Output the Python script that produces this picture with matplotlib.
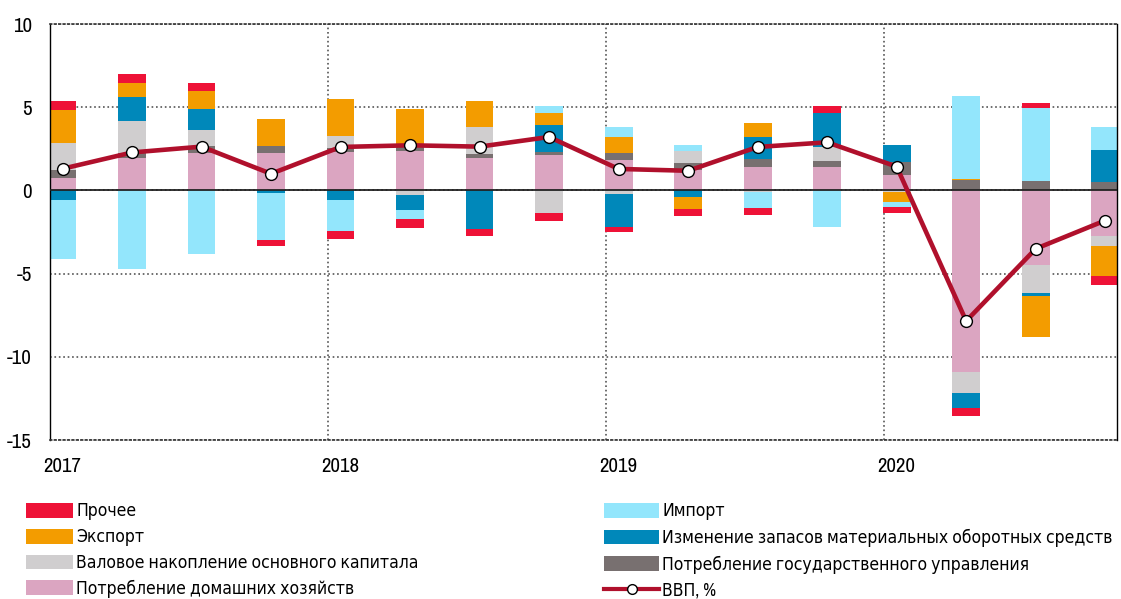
import matplotlib
matplotlib.use("Agg")
import matplotlib.pyplot as plt
import numpy as np
from matplotlib.patches import Patch
from matplotlib.lines import Line2D
from matplotlib import font_manager

# pick a condensed face if one is installed (prefer "narrow" faces)
cands = []
for f in font_manager.fontManager.ttflist:
    fn = f.fname.lower()
    if ('narrow' in fn or 'condensed' in fn) and not any(s in fn for s in ('bold', 'oblique', 'italic', 'light')):
        cands.append((0 if 'narrow' in fn else 1, f.name, f))
cands.sort(key=lambda t: (t[0], t[1]))
narrow = cands[0][2] if cands else None
if narrow is not None:
    plt.rcParams['font.family'] = [narrow.name, 'DejaVu Sans']
    plt.rcParams['font.stretch'] = narrow.stretch
else:
    plt.rcParams['font.family'] = ['Roboto', 'DejaVu Sans']
LEG_FS = 12.6
TICK_FS = 15

years = ['2017', '2018', '2019', '2020']
n_quarters = 16

households = [0.72, 1.93, 2.23, 2.23, 2.33, 2.37, 1.93, 2.11, 1.83, 1.22, 1.43, 1.43, 0.92, -10.92, -4.5, -2.73]
government = [0.5, 0.3, 0.46, 0.46, 0.2, 0.26, 0.26, 0.2, 0.4, 0.4, 0.44, 0.36, 0.8, 0.62, 0.58, 0.52]
capital = [1.6, 1.97, 0.94, 0.0, 0.74, -0.28, 1.65, -1.33, -0.24, 0.76, -0.1, 0.84, -0.08, -1.25, -1.66, -0.6]
inventories = [-0.58, 1.44, 1.25, -0.14, -0.58, -0.88, -2.29, 1.63, -1.95, -0.38, 1.33, 2.01, 1.0, -0.9, -0.16, 1.91]
exports = [2.0, 0.81, 1.12, 1.61, 2.23, 2.27, 1.52, 0.7, 1.0, -0.76, 0.84, 0.0, -0.6, 0.06, -2.49, -1.83]
imports = [-3.52, -4.7, -3.84, -2.86, -1.86, -0.56, 0.0, 0.44, 0.56, 0.32, -0.98, -2.19, -0.33, 5.0, 4.36, 1.41]
other = [0.54, 0.56, 0.43, -0.33, -0.48, -0.54, -0.46, -0.52, -0.34, -0.4, -0.4, 0.44, -0.33, -0.5, 0.34, -0.5]
gdp = [1.3, 2.28, 2.63, 1.0, 2.61, 2.71, 2.63, 3.21, 1.29, 1.18, 2.61, 2.89, 1.43, -7.85, -3.51, -1.81]

labels = {
    'households': 'Потребление домашних хозяйств',
    'government': 'Потребление государственного управления',
    'capital': 'Валовое накопление основного капитала',
    'inventories': 'Изменение запасов материальных оборотных средств',
    'exports': 'Экспорт',
    'imports': 'Импорт',
    'other': 'Прочее',
    'gdp': 'ВВП, %',
}
colors = {
    'households': '#DBA5C1',
    'government': '#787070',
    'capital': '#D0CECF',
    'inventories': '#0088BA',
    'exports': '#F39C00',
    'imports': '#93E6FC',
    'other': '#EE1237',
    'gdp': '#B0102C',
}

series = [('households', households), ('government', government), ('capital', capital),
          ('inventories', inventories), ('exports', exports), ('imports', imports), ('other', other)]

fig = plt.figure(figsize=(11.21, 5.99), dpi=100)
ax = fig.add_axes([50/1121, 1-440/599, 1067/1121, 416/599])

x = np.arange(n_quarters) + 0.18
pos_bottom = np.zeros(n_quarters)
neg_bottom = np.zeros(n_quarters)
for key, vals in series:
    v = np.array(vals)
    bottoms = np.where(v >= 0, pos_bottom, neg_bottom)
    ax.bar(x, v, width=0.4, bottom=bottoms, color=colors[key], edgecolor='none', zorder=2)
    pos_bottom = pos_bottom + np.where(v >= 0, v, 0)
    neg_bottom = neg_bottom + np.where(v < 0, v, 0)

ax.axhline(0, color='#222222', lw=1.3, zorder=3)
ax.plot(x, gdp, color=colors['gdp'], lw=3.3, marker='o', markersize=8.5,
        markerfacecolor='white', markeredgecolor='black', markeredgewidth=1.0, zorder=4)

ax.set_xlim(0, 15.35)
ax.set_ylim(-15, 10)
ax.set_yticks([-15, -10, -5, 0, 5, 10])
ax.set_yticklabels(['-15', '-10', '-5', '0', '5', '10'])
ax.set_xticks(np.arange(0, 16, 4) + 0.18)
ax.set_xticklabels(years)
ax.set_xticks(np.arange(0, 16, 4), minor=True)
ax.tick_params(axis='both', which='both', length=0, labelsize=TICK_FS)
ax.tick_params(axis='y', pad=13)
ax.tick_params(axis='x', pad=12)
ax.grid(True, which='minor', axis='x', linestyle=':', color='#555555', lw=1.2, zorder=1)
ax.grid(True, which='major', axis='y', linestyle=':', color='#555555', lw=1.2, zorder=1)
ax.grid(False, which='major', axis='x')
for s in ['top', 'bottom']:
    ax.spines[s].set_linestyle(':')
    ax.spines[s].set_color('#333333')
    ax.spines[s].set_linewidth(1.2)
for s in ['left', 'right']:
    ax.spines[s].set_color('black')
    ax.spines[s].set_linewidth(1.0)

h = lambda k: Patch(facecolor=colors[k], edgecolor='none', label=labels[k])
left_handles = [h('other'), h('exports'), h('capital'), h('households')]
right_handles = [h('imports'), h('inventories'), h('government'),
                 Line2D([0], [0], color=colors['gdp'], lw=3, marker='o', markersize=7,
                        markerfacecolor='white', markeredgecolor='black', markeredgewidth=1.0,
                        label=labels['gdp'])]

fs_px = LEG_FS * 100 / 72
common = dict(frameon=False, fontsize=LEG_FS, handleheight=16 / fs_px,
              handletextpad=3 / fs_px, labelspacing=(26 - fs_px) / fs_px,
              borderaxespad=0, borderpad=0)
leg1 = fig.legend(handles=left_handles, loc='upper left', handlelength=47 / fs_px,
                  bbox_to_anchor=(26/1121, 1-503/599), **common)
leg2 = fig.legend(handles=right_handles, loc='upper left', handlelength=55 / fs_px,
                  bbox_to_anchor=(604/1121, 1-503/599), **common)

fig.savefig('out.png', dpi=100)
